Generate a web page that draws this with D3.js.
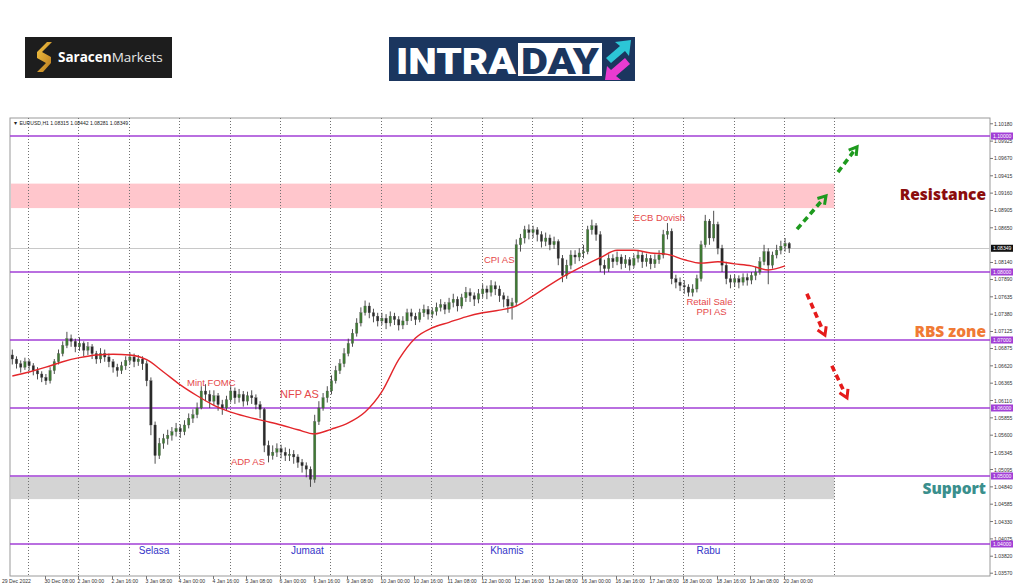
<!DOCTYPE html>
<html>
<head>
<meta charset="utf-8">
<script src="https://cdn.jsdelivr.net/npm/d3@7"></script>
<style>
body { margin: 0; background: #fff; }
svg { display: block; font-family: "Liberation Sans", Arial, sans-serif; }
</style>
</head>
<body>
<div id="chart"></div>
<script>
// EURUSD H1, shown as 2 hour candles. prices in 1/10000
var firstHour = -8;          // hours from 30 Dec 00:00 (trading hours only)
var firstOpen = 10678;
var closes = [
  10672,10665,10660,10668,10662,10655,10650,10645,10640,10655,
  10668,10680,10692,10702,10698,10690,10695,10685,10690,10680,
  10672,10680,10675,10668,10660,10655,10662,10670,10675,10668,
  10672,10665,10640,10575,10530,10548,10555,10560,10565,10570,
  10565,10575,10585,10590,10600,10625,10620,10610,10618,10605,
  10600,10612,10625,10615,10620,10610,10618,10615,10605,10598,
  10545,10530,10535,10540,10535,10530,10532,10528,10520,10515,
  10510,10495,10580,10600,10615,10625,10640,10655,10665,10680,
  10695,10710,10725,10740,10750,10740,10735,10728,10732,10725,
  10735,10730,10722,10728,10740,10735,10730,10740,10745,10738,
  10742,10748,10752,10745,10755,10760,10750,10762,10770,10765,
  10760,10768,10775,10770,10780,10775,10765,10760,10750,10755,
  10840,10850,10862,10858,10862,10855,10845,10850,10840,10845,
  10820,10795,10810,10825,10822,10828,10830,10862,10868,10855,
  10810,10805,10820,10815,10822,10812,10818,10810,10820,10825,
  10815,10820,10812,10818,10825,10855,10860,10790,10785,10780,
  10778,10770,10775,10790,10840,10875,10850,10870,10835,10810,
  10790,10785,10790,10785,10792,10788,10795,10800,10815,10830,
  10810,10825,10832,10838,10842,10835
];
var highs = [
  10686,10676,10670,10674,10672,10666,10660,10654,10650,10660,
  10672,10686,10698,10712,10708,10702,10704,10698,10697,10694,
  10684,10688,10686,10680,10672,10665,10668,10676,10682,10680,
  10678,10676,10670,10645,10580,10556,10562,10568,10572,10578,
  10576,10582,10592,10598,10608,10632,10635,10626,10626,10622,
  10612,10618,10632,10630,10628,10625,10624,10626,10620,10610,
  10600,10552,10545,10548,10546,10542,10540,10538,10532,10525,
  10520,10514,10590,10610,10622,10632,10648,10662,10672,10688,
  10702,10716,10732,10748,10758,10755,10746,10740,10740,10738,
  10742,10740,10735,10735,10746,10746,10740,10746,10752,10750,
  10748,10755,10760,10756,10762,10768,10764,10768,10778,10776,
  10770,10775,10782,10780,10788,10786,10780,10770,10765,10762,
  10848,10856,10868,10870,10868,10866,10860,10858,10855,10852,
  10848,10825,10818,10832,10832,10835,10840,10868,10877,10872,
  10860,10818,10826,10826,10830,10826,10825,10822,10826,10832,
  10830,10827,10825,10826,10832,10862,10872,10864,10796,10792,
  10788,10782,10782,10796,10846,10884,10878,10890,10874,10840,
  10815,10796,10796,10795,10798,10798,10800,10808,10822,10840,
  10835,10830,10840,10846,10850,10844
];
var lows = [
  10664,10658,10652,10656,10655,10648,10642,10638,10634,10636,
  10650,10664,10676,10688,10690,10682,10684,10676,10678,10672,
  10665,10666,10668,10660,10652,10646,10650,10656,10664,10660,
  10662,10656,10632,10560,10518,10525,10540,10546,10552,10558,
  10556,10560,10570,10578,10585,10598,10610,10600,10604,10596,
  10590,10596,10608,10606,10608,10602,10604,10606,10598,10585,
  10535,10520,10524,10528,10526,10522,10522,10518,10512,10505,
  10498,10484,10490,10575,10596,10608,10620,10636,10650,10660,
  10676,10690,10705,10720,10736,10732,10726,10720,10722,10716,
  10720,10722,10714,10716,10722,10728,10722,10726,10734,10730,
  10732,10736,10742,10738,10740,10748,10742,10746,10756,10756,
  10750,10754,10762,10760,10764,10766,10756,10748,10740,10730,
  10750,10830,10842,10848,10850,10845,10836,10838,10832,10834,
  10810,10785,10790,10804,10812,10816,10820,10826,10855,10846,
  10800,10796,10800,10806,10810,10804,10806,10802,10806,10814,
  10806,10808,10804,10806,10812,10820,10848,10782,10776,10772,
  10768,10764,10764,10770,10786,10836,10840,10845,10826,10800,
  10782,10776,10778,10776,10780,10780,10782,10788,10796,10810,
  10782,10805,10820,10826,10830,10828
];
// moving average read every 4 candles
var maStep = 4;
var maValues = [
  10647,10653,10660,10668,10674,10678,10679,10678,10671,10653,
  10634,10618,10604,10594,10587,10581,10575,10568,10562,10569,
  10578,10594,10624,10671,10703,10718,10726,10734,10740,10744,
  10750,10765,10781,10796,10809,10821,10832,10832,10828,10826,
  10818,10813,10815,10812,10809,10803,10809
];

var timeLabels = ["29 Dec 2022","30 Dec 08:00","2 Jan 00:00","2 Jan 16:00","3 Jan 08:00","4 Jan 00:00",
  "4 Jan 16:00","5 Jan 08:00","6 Jan 00:00","6 Jan 16:00","9 Jan 08:00","10 Jan 00:00","10 Jan 16:00",
  "11 Jan 08:00","12 Jan 00:00","12 Jan 16:00","13 Jan 08:00","16 Jan 00:00","16 Jan 16:00",
  "17 Jan 08:00","18 Jan 00:00","18 Jan 16:00","19 Jan 08:00","20 Jan 00:00"];
// 1.08395 sits under the last price box, so it is left out
var priceTicks = ["1.10180","1.09925","1.09670","1.09415","1.09160","1.08905","1.08650",
  "1.08140","1.07890","1.07635","1.07380","1.07125","1.06875","1.06620","1.06365","1.06110",
  "1.05855","1.05600","1.05345","1.05095","1.04840","1.04585","1.04330","1.04075","1.03820","1.03570"];
var levels = [1.10, 1.08, 1.07, 1.06, 1.05, 1.04];
var levelLabels = ["1.10000","1.08000","1.07000","1.06000","1.05000","1.04000"];
var lastPrice = 1.08349;
var zones = [
  {name: "Resistance", top: 1.0930, bottom: 1.0894, color: "#ffc6cc", text: "#8b0d0d"},
  {name: "Support", top: 1.0499, bottom: 1.0466, color: "#d4d4d4", text: "#3a8f8d"}
];
var rbsLabel = {name: "RBS zone", price: 1.0698, text: "#f07a35"};
var events = [
  {text: "Mint FOMC", hour: 75.7, price: 1.0632, anchor: "start"},
  {text: "ADP AS", hour: 96.6, price: 1.0516, anchor: "start"},
  {text: "NFP AS", hour: 120, price: 1.0615, anchor: "start", big: true},
  {text: "CPI AS", hour: 217.1, price: 1.0813, anchor: "start"},
  {text: "ECB Dovish", hour: 288.5, price: 1.0875, anchor: "start"},
  {text: "Retail Sale", hour: 324.5, price: 1.0752, anchor: "middle"},
  {text: "PPI AS", hour: 325.5, price: 1.0737, anchor: "middle"}
];
var dayNames = ["Selasa", "Jumaat", "Khamis", "Rabu"];
var dayHours = [60, 133, 228, 324];
var arrows = [
  {h1: 366.2, p1: 1.0863, h2: 380, p2: 1.0912, color: "#1e9a1e"},
  {h1: 385.7, p1: 1.0947, h2: 394.8, p2: 1.0984, color: "#1e9a1e"},
  {h1: 370.9, p1: 1.0768, h2: 379.5, p2: 1.0707, color: "#e51b1b"},
  {h1: 382.8, p1: 1.0662, h2: 390, p2: 1.0615, color: "#e51b1b"}
];

var width = 1024, height = 587;
var plot = {left: 10, right: 990, top: 118, bottom: 576};
var purple = "#a23fd6";
var smallFont = "5.1px";

var svg = d3.select("#chart").append("svg")
    .attr("width", width)
    .attr("height", height);

var x = d3.scaleLinear().domain([-8.6, 458.1]).range([plot.left, plot.right]);
var y = d3.scaleLinear().domain([1.10265, 1.03529]).range([plot.top, plot.bottom]);

var candles = closes.map(function(c, i){
    return {
        hour: firstHour + 2 * i,
        o: (i == 0 ? firstOpen : closes[i-1]) / 10000,
        c: c / 10000,
        h: highs[i] / 10000,
        l: lows[i] / 10000
    };
});

// ---- logos ----
var logo = svg.append("g");
logo.append("rect").attr("x", 25).attr("y", 37).attr("width", 147).attr("height", 41).attr("fill", "#1d1d1d");
var gold = svg.append("defs").append("linearGradient").attr("id", "gold")
    .attr("x1", "0%").attr("y1", "0%").attr("x2", "100%").attr("y2", "100%");
gold.append("stop").attr("offset", "0%").attr("stop-color", "#f5c542");
gold.append("stop").attr("offset", "100%").attr("stop-color", "#b7791f");
logo.append("path")
    .attr("d", "M47,42 L37,52 L37,58 L46,63 L37,72 L43,72 L51,63 L51,57 L42,52 L52,42 Z")
    .attr("fill", "url(#gold)");
logo.append("text").attr("x", 58).attr("y", 62).attr("fill", "#fff")
    .style("font-family", "'Open Sans', sans-serif").style("font-size", "13.5px").style("font-weight", "bold")
    .text("Saracen")
  .append("tspan").style("font-weight", "normal").attr("fill", "#e8e8e8").text("Markets");

var intra = svg.append("g");
intra.append("rect").attr("x", 389).attr("y", 37).attr("width", 246).attr("height", 44).attr("fill", "#1b365f");
intra.append("rect").attr("x", 518).attr("y", 43).attr("width", 84).attr("height", 33).attr("fill", "#fff");
intra.append("text").attr("x", 396).attr("y", 74).attr("fill", "#fff")
    .attr("textLength", 120).attr("lengthAdjust", "spacingAndGlyphs")
    .style("font-family", "Roboto, 'Open Sans', sans-serif").style("font-size", "37px").style("font-weight", "900")
    .text("INTRA");
intra.append("text").attr("x", 521).attr("y", 74).attr("fill", "#1b365f")
    .attr("textLength", 78).attr("lengthAdjust", "spacingAndGlyphs")
    .style("font-family", "Roboto, 'Open Sans', sans-serif").style("font-size", "37px").style("font-weight", "900")
    .text("DAY");
intra.append("path").attr("d", "M606,58 L620,46 L615,42 L631,40 L629,56 L625,51 L611,63 Z").attr("fill", "#2cc6d6");
intra.append("path").attr("d", "M630,64 L616,76 L621,80 L605,80 L607,66 L611,70 L625,58 Z").attr("fill", "#e93bd0");

// ---- chart area ----
var chart = svg.append("g");
chart.append("rect")
    .attr("x", plot.left).attr("y", plot.top)
    .attr("width", plot.right - plot.left).attr("height", plot.bottom - plot.top)
    .attr("fill", "#fff").attr("stroke", "#9a9a9a").attr("stroke-width", 1);

chart.selectAll(".zone")
    .data(zones)
    .enter()
    .append("rect")
    .attr("class", "zone")
    .attr("x", plot.left + 1)
    .attr("y", function(d){ return y(d.top); })
    .attr("width", x(384) - plot.left - 1)
    .attr("height", function(d){ return y(d.bottom) - y(d.top); })
    .attr("fill", function(d){ return d.color; });

// vertical grid, one per day
var gridHours = d3.range(0, 385, 24);
chart.selectAll(".grid")
    .data(gridHours)
    .enter()
    .append("line")
    .attr("x1", function(d){ return Math.round(x(d)) + 0.5; })
    .attr("x2", function(d){ return Math.round(x(d)) + 0.5; })
    .attr("y1", plot.top).attr("y2", plot.bottom)
    .attr("stroke", "#707070").attr("stroke-width", 1).attr("stroke-dasharray", "1,2");

// last price line
chart.append("line")
    .attr("x1", plot.left).attr("x2", plot.right)
    .attr("y1", Math.round(y(lastPrice)) + 0.5).attr("y2", Math.round(y(lastPrice)) + 0.5)
    .attr("stroke", "#c8c8c8").attr("stroke-width", 1);

// purple levels
chart.selectAll(".level")
    .data(levels)
    .enter()
    .append("line")
    .attr("x1", plot.left).attr("x2", plot.right)
    .attr("y1", function(d){ return y(d); }).attr("y2", function(d){ return y(d); })
    .attr("stroke", purple).attr("stroke-width", 1.6);

// candles
var barW = 2.4;
var cg = chart.append("g");
cg.selectAll(".wick")
    .data(candles)
    .enter()
    .append("line")
    .attr("x1", function(d){ return x(d.hour + 0.5); })
    .attr("x2", function(d){ return x(d.hour + 0.5); })
    .attr("y1", function(d){ return y(Math.max(d.h, d.o, d.c)); })
    .attr("y2", function(d){ return y(Math.min(d.l, d.o, d.c)); })
    .attr("stroke", "#3a3a3a").attr("stroke-width", 0.9);
cg.selectAll(".body")
    .data(candles)
    .enter()
    .append("rect")
    .attr("x", function(d){ return x(d.hour + 0.5) - barW / 2; })
    .attr("y", function(d){ return y(Math.max(d.o, d.c)); })
    .attr("width", barW)
    .attr("height", function(d){ return Math.max(0.8, Math.abs(y(d.o) - y(d.c))); })
    .attr("fill", function(d){ return d.c >= d.o ? "#3f7a34" : "#2a2a2a"; })
    .attr("stroke", "#555").attr("stroke-width", 0.3);

// moving average
var maLine = d3.line()
    .x(function(d, i){ return x(firstHour + 2 * i * maStep + 0.5); })
    .y(function(d){ return y(d / 10000); })
    .curve(d3.curveMonotoneX);
chart.append("path")
    .datum(maValues)
    .attr("d", maLine)
    .attr("fill", "none")
    .attr("stroke", "#e3262b")
    .attr("stroke-width", 1.4);

// header text
chart.append("text")
    .attr("x", 13).attr("y", 125)
    .style("font-size", smallFont).attr("fill", "#222")
    .text("\u25BC EURUSD,H1  1.08315 1.08442 1.08281 1.08349");

// event labels
chart.selectAll(".event")
    .data(events)
    .enter()
    .append("text")
    .attr("x", function(d){ return x(d.hour); })
    .attr("y", function(d){ return y(d.price); })
    .attr("text-anchor", function(d){ return d.anchor; })
    .style("font-size", function(d){ return d.big ? "11px" : "9.5px"; })
    .attr("fill", "#e5484a")
    .text(function(d){ return d.text; });

// day names
chart.selectAll(".day")
    .data(dayNames)
    .enter()
    .append("text")
    .attr("x", function(d, i){ return x(dayHours[i]); })
    .attr("y", y(1.0385))
    .attr("text-anchor", "middle")
    .style("font-size", "10px")
    .attr("fill", "#3535c8")
    .text(function(d){ return d; });

// dashed arrows
arrows.forEach(function(a){
    var x1 = x(a.h1), y1 = y(a.p1), x2 = x(a.h2), y2 = y(a.p2);
    var ang = Math.atan2(y2 - y1, x2 - x1);
    var back = 6;
    chart.append("line")
        .attr("x1", x1).attr("y1", y1)
        .attr("x2", x2 - back * Math.cos(ang)).attr("y2", y2 - back * Math.sin(ang))
        .attr("stroke", a.color).attr("stroke-width", 3.6)
        .attr("stroke-dasharray", "6,4");
    var len = 9, spread = 0.55;
    chart.append("path")
        .attr("d", "M" + (x2 - len * Math.cos(ang - spread)) + "," + (y2 - len * Math.sin(ang - spread)) +
                   "L" + x2 + "," + y2 +
                   "L" + (x2 - len * Math.cos(ang + spread)) + "," + (y2 - len * Math.sin(ang + spread)))
        .attr("fill", "none").attr("stroke", a.color).attr("stroke-width", 3);
});

// zone labels
var bigFont = "'Open Sans', Lato, sans-serif";
zones.forEach(function(z){
    chart.append("text")
        .attr("x", 986).attr("y", z.name == "Resistance" ? 200 : 494)
        .attr("text-anchor", "end")
        .style("font-family", bigFont).style("font-size", "15.5px").style("font-weight", "800")
        .attr("fill", z.text)
        .text(z.name);
});
chart.append("text")
    .attr("x", 986).attr("y", 337)
    .attr("text-anchor", "end")
    .style("font-family", bigFont).style("font-size", "15.5px").style("font-weight", "800")
    .attr("fill", rbsLabel.text)
    .text(rbsLabel.name);

// ---- right price axis ----
var axisG = svg.append("g");
axisG.selectAll(".ptick")
    .data(priceTicks)
    .enter()
    .append("g")
    .each(function(d){
        var g = d3.select(this), yy = y(+d);
        g.append("line").attr("x1", plot.right).attr("x2", plot.right + 3)
            .attr("y1", yy).attr("y2", yy).attr("stroke", "#777");
        g.append("text").attr("x", plot.right + 4).attr("y", yy + 2)
            .style("font-size", smallFont).attr("fill", "#333").text(d);
    });
levels.forEach(function(v, i){
    axisG.append("rect").attr("x", plot.right + 1).attr("y", y(v) - 3.5)
        .attr("width", 22).attr("height", 7).attr("fill", purple);
    axisG.append("text").attr("x", plot.right + 3).attr("y", y(v) + 2)
        .style("font-size", smallFont).attr("fill", "#fff").text(levelLabels[i]);
});
axisG.append("rect").attr("x", plot.right + 1).attr("y", y(lastPrice) - 3.5)
    .attr("width", 22).attr("height", 7).attr("fill", "#111");
axisG.append("text").attr("x", plot.right + 3).attr("y", y(lastPrice) + 2)
    .style("font-size", smallFont).attr("fill", "#fff").text(lastPrice.toFixed(5));

// ---- bottom time axis ----
var tAxis = svg.append("g");
tAxis.selectAll(".ttick")
    .data(timeLabels)
    .enter()
    .append("g")
    .each(function(d, i){
        var g = d3.select(this), h = firstHour + 16 * i, xx = Math.round(x(h)) + 0.5;
        if (i > 0) {
            g.append("line").attr("x1", xx).attr("x2", xx)
                .attr("y1", plot.bottom).attr("y2", plot.bottom + 3).attr("stroke", "#777");
        }
        g.append("text").attr("x", i == 0 ? 2 : xx - 1).attr("y", 583)
            .style("font-size", smallFont).attr("fill", "#333").text(d);
    });
</script>
</body>
</html>
